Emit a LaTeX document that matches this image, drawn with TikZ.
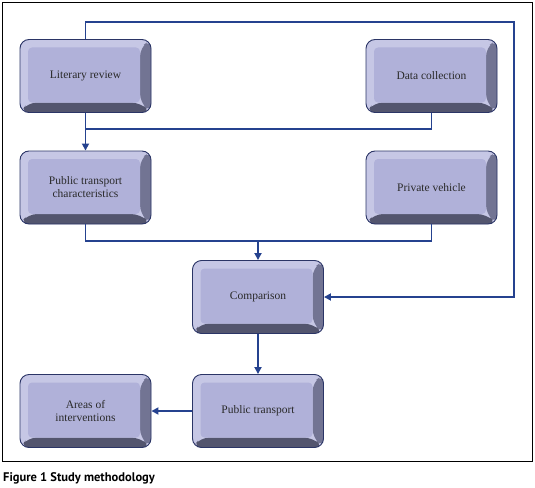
\documentclass[tikz,border=0pt]{standalone}
\usepackage{fontspec}
\setmainfont{Liberation Serif}
\newfontfamily\capfont{PT Sans}
\usetikzlibrary{arrows.meta,calc}
\definecolor{bevlight}{HTML}{C6C7E5}
\definecolor{bevright}{HTML}{727493}
\definecolor{bevbottom}{HTML}{53556E}
\definecolor{boxface}{HTML}{B0B1D9}
\definecolor{boxedge}{HTML}{2B3566}
\definecolor{linecol}{HTML}{25428F}
\definecolor{txtcol}{HTML}{2A2A2A}
\tikzset{
  bevbox/.style={
    draw=boxedge, line width=0.9pt, rounded corners=9pt,
    minimum width=131pt, minimum height=73pt, inner sep=0pt,
    align=center, text=txtcol, font=\fontsize{11.5}{13}\selectfont,
    path picture={
      \fill[bevlight] (path picture bounding box.south west) rectangle (path picture bounding box.north east);
      \fill[bevright]
        ($(path picture bounding box.north east)+(-11pt,-8pt)$) --
        (path picture bounding box.north east) --
        (path picture bounding box.south east) --
        ($(path picture bounding box.south east)+(-11pt,10pt)$) -- cycle;
      \fill[bevbottom]
        ($(path picture bounding box.south west)+(8pt,10pt)$) --
        (path picture bounding box.south west) --
        (path picture bounding box.south east) --
        ($(path picture bounding box.south east)+(-11pt,10pt)$) -- cycle;
      \fill[boxface, rounded corners=4pt]
        ($(path picture bounding box.south west)+(8pt,10pt)$) rectangle
        ($(path picture bounding box.north east)+(-11pt,-8pt)$);
    }
  },
  conn/.style={draw=linecol, line width=1.7pt},
  arr/.style={conn, -{Triangle[length=7pt,width=7pt]}}
}
\begin{document}
\begin{tikzpicture}[x=1pt,y=-1pt]
\useasboundingbox (0,0) rectangle (535,487);
\draw[black, line width=0.9pt] (2,2) rectangle (532,461);

\node[bevbox] (lit) at (85.5,76) {Literary review};
\node[bevbox] (dc)  at (431.5,76) {Data collection};
\node[bevbox] (ptc) at (85.5,187.5) {Public transport\\characteristics};
\node[bevbox] (pv)  at (431.5,187.5) {Private vehicle};
\node[bevbox] (cmp) at (258,297) {Comparison};
\node[bevbox] (pt)  at (258,411) {Public transport};
\node[bevbox] (aoi) at (85.5,411) {Areas of\\interventions};

\coordinate (tr) at (514,22);
\coordinate (j1) at (85.5,129);
\coordinate (j2) at (258,241);

\draw[arr] (lit.north) |- (tr) |- (cmp.east);
\draw[arr] (lit.south) -- (ptc.north);
\draw[conn] (dc.south) |- (j1);
\draw[conn] (ptc.south) |- (j2) -| (pv.south);
\draw[arr] (j2) -- (cmp.north);
\draw[arr] (cmp.south) -- (pt.north);
\draw[arr] (pt.west) -- (aoi.east);

\node[anchor=base west, inner sep=0pt, font=\capfont\bfseries\fontsize{12.5}{14}\selectfont] (cap) at (3,481) {Figure 1 Study methodology};
\end{tikzpicture}
\end{document}
